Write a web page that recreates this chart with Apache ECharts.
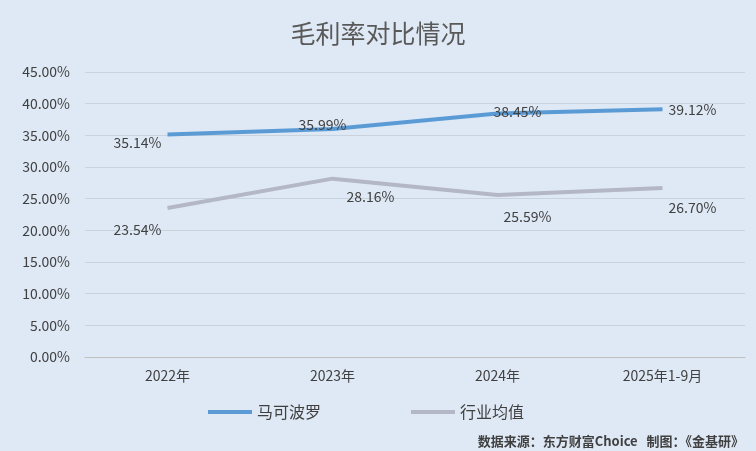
<!DOCTYPE html>
<html><head><meta charset="utf-8">
<script src="https://cdn.jsdelivr.net/npm/echarts@6/dist/echarts.min.js"></script>
<style>html,body{margin:0;padding:0;background:#dfe9f5}#c{width:756px;height:451px}</style>
</head><body><div id="c"></div>
<script>
const categories = ['2022年','2023年','2024年','2025年1-9月'];
const macoPolo = [35.14, 35.99, 38.45, 39.12];
const industryAvg = [23.54, 28.16, 25.59, 26.70];
const blueOffsets = [[-30,8],[-10,-4],[20,-2],[30,0]];
const greyOffsets = [[-30,22],[38,18],[30,22],[30,20]];
const mk = (vals, offs) => vals.map((v,i)=>({value:v,label:{offset:offs[i]}}));
const chart = echarts.init(document.getElementById('c'));
const font = '"Microsoft YaHei","Noto Sans CJK SC",sans-serif';
chart.setOption({
  backgroundColor:'#dfe9f5',
  title:{text:'毛利率对比情况',left:'center',top:16,textStyle:{fontFamily:font,fontSize:25,fontWeight:'normal',color:'#595959'}},
  grid:{left:85,right:11,top:72,bottom:94},
  legend:{bottom:26,left:203,itemGap:90,itemWidth:44,itemHeight:4,icon:'rect',textStyle:{fontFamily:font,fontSize:16,color:'#404040'},data:['马可波罗','行业均值']},
  graphic:[{type:'text',right:12,bottom:3,style:{text:'数据来源：东方财富Choice   制图：《金基研》',font:'bold 13px '+font,fill:'#404040'}}],
  xAxis:{type:'category',data:categories,boundaryGap:true,axisTick:{show:false},axisLine:{lineStyle:{color:'#bfbfbf'}},axisLabel:{fontFamily:font,fontSize:14,color:'#404040',margin:12}},
  yAxis:{type:'value',min:0,max:45,interval:5,axisLabel:{formatter:v=>v.toFixed(2)+'%',fontFamily:font,fontSize:14,color:'#404040',margin:15},splitLine:{lineStyle:{color:'#c9d3de'}},axisLine:{show:false}},
  series:[
    {name:'马可波罗',type:'line',data:mk(macoPolo,blueOffsets),symbol:'circle',symbolSize:0,showSymbol:true,lineStyle:{width:4,color:'#5b9bd5'},itemStyle:{color:'#5b9bd5'},
     label:{show:true,position:'inside',formatter:p=>p.value.toFixed(2)+'%',fontFamily:font,fontSize:14,color:'#404040'}},
    {name:'行业均值',type:'line',data:mk(industryAvg,greyOffsets),symbol:'circle',symbolSize:0,showSymbol:true,lineStyle:{width:4,color:'#b4b8c6'},itemStyle:{color:'#b4b8c6'},
     label:{show:true,position:'inside',formatter:p=>p.value.toFixed(2)+'%',fontFamily:font,fontSize:14,color:'#404040'}}
  ]
});
</script></body></html>
